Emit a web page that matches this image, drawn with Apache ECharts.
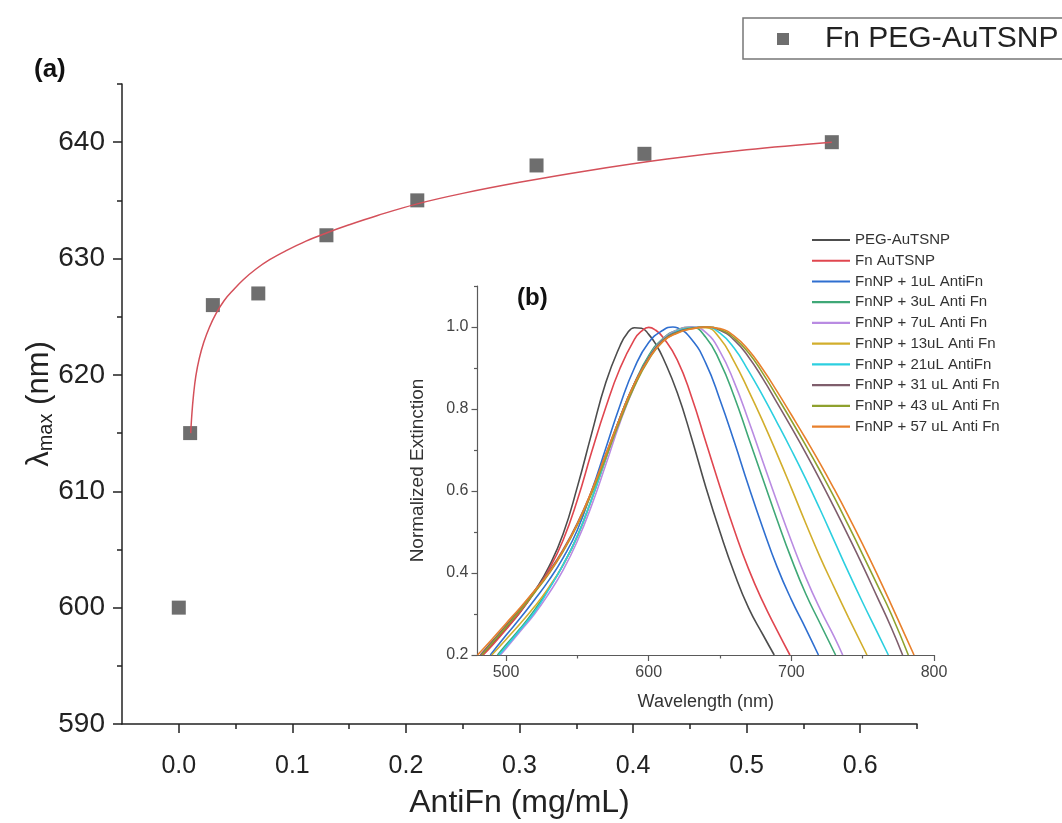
<!DOCTYPE html>
<html><head><meta charset="utf-8">
<script src="https://cdn.jsdelivr.net/npm/echarts@6/dist/echarts.min.js"></script>
<style>html,body{margin:0;padding:0;background:#fff}#c{width:1062px;height:823px}</style>
</head><body><div id="c"></div>
<script>
// ---- Main panel (a) data ----
const concentration = [0, 0.01, 0.03, 0.07, 0.13, 0.21, 0.315, 0.41, 0.575];
const lambdaMax = [600, 615, 626, 627, 632, 635, 638, 639, 640];
const fitX = [0.0105, 0.0115, 0.013, 0.015, 0.018, 0.022, 0.027, 0.033, 0.040, 0.048, 0.057, 0.068, 0.080, 0.095, 0.112, 0.13, 0.15, 0.175, 0.21, 0.25, 0.3, 0.36, 0.43, 0.5, 0.575];
const fitY = [615.0, 616.6, 618.3, 619.9, 621.4, 622.8, 624.1, 625.3, 626.4, 627.3, 628.2, 629.1, 629.9, 630.7, 631.5, 632.2, 632.9, 633.7, 634.7, 635.6, 636.55, 637.55, 638.55, 639.35, 640.0];
const mainXTicks = [0, 0.1, 0.2, 0.3, 0.4, 0.5, 0.6];
const mainXMinor = [0.05, 0.15, 0.25, 0.35, 0.45, 0.55, 0.65];
const mainYTicks = [590, 600, 610, 620, 630, 640];
const mainYMinor = [595, 605, 615, 625, 635, 645];

// ---- Inset panel (b) data: [wavelength nm, normalized extinction] ----
const specNames = ['PEG-AuTSNP', 'Fn AuTSNP', 'FnNP + 1uL AntiFn', 'FnNP + 3uL Anti Fn', 'FnNP + 7uL Anti Fn', 'FnNP + 13uL Anti Fn', 'FnNP + 21uL AntiFn', 'FnNP + 31 uL Anti Fn', 'FnNP + 43 uL Anti Fn', 'FnNP + 57 uL Anti Fn'];
const specColors = ['#4d4d4d', '#e0464f', '#2f6fd0', '#3fa877', '#b98be2', '#d2ae2c', '#2ccfe0', '#7f5e6c', '#8fa12e', '#e8802c'];
const specPEG = [[483,0.2],[490,0.225],[500,0.265],[510,0.305],[520,0.355],[530,0.415],[540,0.495],[550,0.61],[560,0.74],[570,0.865],[580,0.955],[585,0.985],[590,0.998],[595,0.997],[600,0.982],[605,0.958],[610,0.925],[620,0.84],[630,0.73],[640,0.61],[650,0.5],[660,0.4],[670,0.315],[680,0.25],[688,0.2]];
const specFn = [[484,0.2],[490,0.222],[500,0.262],[510,0.305],[520,0.353],[530,0.408],[540,0.48],[550,0.578],[560,0.695],[570,0.805],[580,0.9],[590,0.97],[595,0.99],[600,0.999],[605,0.992],[610,0.975],[620,0.92],[630,0.83],[640,0.72],[650,0.61],[660,0.505],[670,0.41],[680,0.33],[690,0.26],[699,0.2]];
const spec1 = [[489,0.2],[500,0.248],[510,0.29],[520,0.335],[530,0.382],[540,0.437],[550,0.505],[560,0.6],[570,0.705],[580,0.81],[590,0.9],[600,0.962],[610,0.992],[617,1.0],[620,0.998],[630,0.97],[640,0.912],[650,0.822],[660,0.72],[670,0.612],[680,0.51],[690,0.415],[700,0.335],[710,0.265],[719,0.2]];
const spec3 = [[494,0.2],[500,0.225],[510,0.265],[520,0.31],[530,0.362],[540,0.42],[550,0.49],[560,0.58],[570,0.68],[580,0.78],[590,0.862],[600,0.93],[610,0.972],[620,0.993],[630,1.0],[640,0.975],[650,0.915],[660,0.83],[670,0.73],[680,0.63],[690,0.53],[700,0.435],[710,0.35],[720,0.278],[731,0.2]];
const spec7 = [[496,0.2],[500,0.216],[510,0.258],[520,0.3],[530,0.35],[540,0.407],[550,0.478],[560,0.565],[570,0.665],[580,0.768],[590,0.855],[600,0.925],[610,0.97],[620,0.992],[630,1.0],[640,0.987],[650,0.94],[660,0.865],[670,0.772],[680,0.672],[690,0.573],[700,0.478],[710,0.39],[720,0.313],[730,0.245],[736,0.2]];
const spec13 = [[490,0.2],[500,0.238],[510,0.277],[520,0.318],[530,0.365],[540,0.42],[550,0.49],[560,0.58],[570,0.68],[580,0.78],[590,0.862],[600,0.925],[610,0.968],[620,0.99],[630,0.998],[640,0.998],[650,0.972],[660,0.915],[670,0.845],[680,0.77],[690,0.69],[700,0.607],[710,0.522],[720,0.44],[730,0.365],[740,0.292],[753,0.2]];
const spec21 = [[495,0.2],[500,0.22],[510,0.262],[520,0.305],[530,0.36],[540,0.42],[550,0.49],[560,0.58],[570,0.68],[580,0.78],[590,0.862],[600,0.925],[610,0.968],[620,0.99],[630,0.998],[640,1.0],[650,0.985],[660,0.948],[670,0.893],[680,0.832],[690,0.767],[700,0.7],[710,0.63],[720,0.556],[730,0.479],[740,0.402],[750,0.328],[760,0.257],[768,0.2]];
const spec31 = [[482,0.2],[490,0.232],[500,0.272],[510,0.313],[520,0.357],[530,0.403],[540,0.457],[550,0.522],[560,0.6],[570,0.69],[580,0.78],[590,0.862],[600,0.925],[610,0.968],[620,0.988],[630,0.997],[640,1.0],[650,0.992],[660,0.968],[670,0.927],[680,0.874],[690,0.815],[700,0.755],[710,0.693],[720,0.628],[730,0.56],[740,0.49],[750,0.418],[760,0.343],[770,0.267],[778,0.2]];
const spec43 = [[483,0.2],[490,0.228],[500,0.268],[510,0.309],[520,0.352],[530,0.398],[540,0.452],[550,0.517],[560,0.594],[570,0.682],[580,0.772],[590,0.855],[600,0.92],[610,0.965],[620,0.986],[630,0.996],[640,1.0],[650,0.994],[660,0.973],[670,0.937],[680,0.887],[690,0.83],[700,0.772],[710,0.712],[720,0.65],[730,0.585],[740,0.516],[750,0.445],[760,0.373],[770,0.3],[782,0.2]];
const spec57 = [[480,0.2],[490,0.238],[500,0.277],[510,0.316],[520,0.357],[530,0.4],[540,0.455],[550,0.52],[560,0.6],[570,0.69],[580,0.78],[590,0.862],[600,0.922],[610,0.965],[620,0.985],[630,0.995],[640,1.0],[650,0.996],[660,0.978],[670,0.944],[680,0.897],[690,0.843],[700,0.786],[710,0.728],[720,0.668],[730,0.605],[740,0.539],[750,0.47],[760,0.398],[770,0.323],[780,0.246],[786,0.2]];
const specData = [specPEG, specFn, spec1, spec3, spec7, spec13, spec21, spec31, spec43, spec57];
const insetXTicks = [500, 600, 700, 800];
const insetXMinor = [550, 650, 750];
const insetYTicks = [0.2, 0.4, 0.6, 0.8, 1.0];
const insetYMinor = [0.3, 0.5, 0.7, 0.9, 1.1];

const FF = '"Liberation Sans", Arial, sans-serif';
const chart = echarts.init(document.getElementById('c'));

function majorAxis(gi, min, max, ticks, fmt, o) {
  return Object.assign({
    type: 'value', gridIndex: gi, min: min, max: max,
    nameMoveOverlap: false,
    splitLine: {show: false},
    axisLine: {show: true, onZero: false, lineStyle: {color: o.color, width: o.lw}},
    axisTick: {show: true, customValues: ticks, length: o.tl, lineStyle: {color: o.color, width: o.lw}},
    axisLabel: {show: true, customValues: ticks, formatter: fmt, color: o.lc, fontSize: o.fs, fontFamily: FF, margin: o.margin}
  }, o.extra || {});
}
function minorAxis(gi, min, max, ticks, o, pos) {
  return {
    type: 'value', gridIndex: gi, min: min, max: max, position: pos,
    splitLine: {show: false},
    axisLine: {show: false, onZero: false},
    axisTick: {show: true, customValues: ticks, length: o.ml, lineStyle: {color: o.color, width: o.lw}},
    axisLabel: {show: false}
  };
}
const mainStyle = {color: '#222', lw: 1.5, tl: 9, ml: 5, lc: '#222'};
const insetStyle = {color: '#5a5a5a', lw: 1.2, tl: 6, ml: 3.5, lc: '#444'};

const series = [
  {type: 'scatter', name: 'Fn PEG-AuTSNP', xAxisIndex: 0, yAxisIndex: 0, symbol: 'rect', symbolSize: 14,
   itemStyle: {color: '#4a4a4a'}, data: concentration.map((c, i) => [c, lambdaMax[i]]), z: 3},
  {type: 'line', name: 'fit', xAxisIndex: 0, yAxisIndex: 0, smooth: 0.4, symbol: 'none',
   lineStyle: {color: '#d4505a', width: 1.5}, data: fitX.map((x, i) => [x, fitY[i]]), z: 4}
];
specData.forEach((d, i) => series.push({
  type: 'line', name: specNames[i], xAxisIndex: 2, yAxisIndex: 2, smooth: 0.5, symbol: 'none',
  lineStyle: {color: specColors[i], width: 1.6}, itemStyle: {color: specColors[i]}, data: d, z: 5 + i
}));

chart.setOption({
  animation: false,
  backgroundColor: '#fff',
  textStyle: {fontFamily: FF},
  grid: [
    {left: 122, top: 84, width: 795, height: 640, containLabel: false, outerBoundsMode: 'none'},
    {left: 477.5, top: 286, width: 456.5, height: 369, containLabel: false, outerBoundsMode: 'none'}
  ],
  title: [
    {text: '(a)', left: 34, top: 57, padding: 0, textStyle: {fontSize: 26, fontWeight: 'bold', color: '#111', fontFamily: FF}},
    {text: '(b)', left: 517, top: 286, padding: 0, textStyle: {fontSize: 24, fontWeight: 'bold', color: '#111', fontFamily: FF}}
  ],
  graphic: [
    {type: 'rect', shape: {x: 743, y: 18, width: 340, height: 41}, style: {fill: '#fff', stroke: '#777', lineWidth: 1.5}, z: -1}
  ],
  legend: [
    {data: ['Fn PEG-AuTSNP'], left: 777, top: 24, padding: 0, icon: 'rect', itemWidth: 12, itemHeight: 12,
     textStyle: {fontSize: 30, color: '#222', fontFamily: FF, lineHeight: 30, padding: [0, 0, 0, 31]}},
    {data: specNames, orient: 'vertical', left: 812, top: 232.5, padding: 0, icon: 'rect', itemWidth: 38, itemHeight: 2.2,
     itemGap: 5.74, textStyle: {fontSize: 15, color: '#333', fontFamily: FF, lineHeight: 15}}
  ],
  xAxis: [
    majorAxis(0, -0.05, 0.65, mainXTicks, v => v.toFixed(1), Object.assign({fs: 25, margin: 30,
      extra: {name: 'AntiFn (mg/mL)', nameLocation: 'middle', nameGap: 63, nameTextStyle: {fontSize: 32, color: '#222', fontFamily: FF}}}, mainStyle)),
    minorAxis(0, -0.05, 0.65, mainXMinor, mainStyle, 'bottom'),
    majorAxis(1, 480, 800, insetXTicks, v => String(v), Object.assign({fs: 16, margin: 10,
      extra: {name: 'Wavelength (nm)', nameLocation: 'middle', nameGap: 38, nameTextStyle: {fontSize: 18, color: '#333', fontFamily: FF}}}, insetStyle)),
    minorAxis(1, 480, 800, insetXMinor, insetStyle, 'bottom')
  ],
  yAxis: [
    majorAxis(0, 590, 645, mainYTicks, v => String(v), Object.assign({fs: 28, margin: 17,
      extra: {name: '{a|λ}{b|max}{a| (nm)}', nameLocation: 'middle', nameGap: 66, nameRotate: 90,
        nameTextStyle: {color: '#222', rich: {a: {fontSize: 31, color: '#222', fontFamily: FF}, b: {fontSize: 20, color: '#222', fontFamily: FF, padding: [14, 0, 0, 0]}}}}}, mainStyle)),
    minorAxis(0, 590, 645, mainYMinor, mainStyle, 'left'),
    majorAxis(1, 0.2, 1.1, insetYTicks, v => v.toFixed(1), Object.assign({fs: 16, margin: 9,
      extra: {name: 'Normalized Extinction', nameLocation: 'middle', nameGap: 50, nameRotate: 90, nameTextStyle: {fontSize: 19, color: '#333', fontFamily: FF}}}, insetStyle)),
    minorAxis(1, 0.2, 1.1, insetYMinor, insetStyle, 'left')
  ],
  series: series
});
</script></body></html>
